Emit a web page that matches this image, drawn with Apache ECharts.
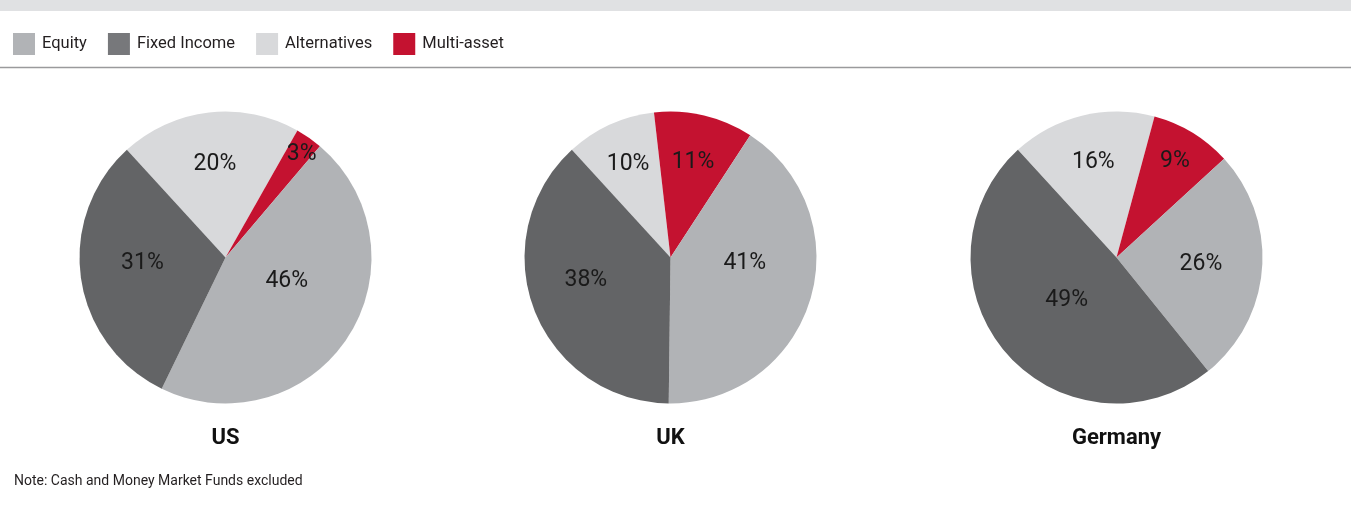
<!DOCTYPE html>
<html>
<head>
<meta charset="utf-8">
<title>Asset allocation by country</title>
<script src="https://cdn.jsdelivr.net/npm/echarts@6/dist/echarts.min.js"></script>
<style>
  html, body { margin: 0; padding: 0; background: #ffffff; }
  #chart { width: 1351px; height: 516px; }
</style>
</head>
<body>
<div id="chart"></div>
<script>
// Asset classes, in legend order
const categories = ['Equity', 'Fixed Income', 'Alternatives', 'Multi-asset'];
// Countries shown as separate pies
const countries = ['US', 'UK', 'Germany'];
// Share of assets (%), same order as categories
const usShares = [46, 31, 20, 3];
const ukShares = [41, 38, 10, 11];
const germanyShares = [26, 49, 16, 9];
const noteText = 'Note: Cash and Money Market Funds excluded';

const allShares = [usShares, ukShares, germanyShares];

// ---- styling ----
const FONT = 'Roboto, "Noto Sans", "Liberation Sans", sans-serif';
const sliceColors = {
  'Equity': '#b1b3b6',
  'Fixed Income': '#636466',
  'Alternatives': '#d8d9db',
  'Multi-asset': '#c41230'
};
const legendColors = {
  'Equity': '#b1b3b6',
  'Fixed Income': '#77787b',
  'Alternatives': '#d8d9db',
  'Multi-asset': '#c41230'
};
// slices run clockwise from the upper-left in this order
const drawOrder = ['Alternatives', 'Multi-asset', 'Equity', 'Fixed Income'];
const START_ANGLE = 132.5;
const RADIUS = 146;
const CENTER_Y = 257.5;
const centersX = [225.5, 670.5, 1116.5];
// how far out each percentage label sits, as a fraction of the radius
const labelReach = [
  { 'Equity': 0.45, 'Fixed Income': 0.57, 'Alternatives': 0.64, 'Multi-asset': 0.88 },
  { 'Equity': 0.51, 'Fixed Income': 0.60, 'Alternatives': 0.70, 'Multi-asset': 0.67 },
  { 'Equity': 0.58, 'Fixed Income': 0.45, 'Alternatives': 0.67, 'Multi-asset': 0.77 }
];
// small turn (degrees, counter-clockwise) of a label away from its slice's middle
const labelTurn = [
  { 'Equity': 12, 'Fixed Income': -4.5, 'Alternatives': 0, 'Multi-asset': -1.5 },
  { 'Equity': 12.5, 'Fixed Income': -6, 'Alternatives': 0, 'Multi-asset': 0 },
  { 'Equity': 0, 'Fixed Income': 0, 'Alternatives': 0, 'Multi-asset': 0 }
];

function pieData(shares) {
  return drawOrder.map(name => ({
    name,
    value: shares[categories.indexOf(name)],
    itemStyle: { color: sliceColors[name] }
  }));
}

// place a label along the middle of its slice
function labelPlacer(seriesIndex) {
  return function (params) {
    const data = pieData(allShares[seriesIndex]);
    const total = data.reduce((s, d) => s + d.value, 0);
    let before = 0;
    for (let i = 0; i < params.dataIndex; i++) before += data[i].value;
    const mid = before + data[params.dataIndex].value / 2;
    const name = data[params.dataIndex].name;
    // angle in degrees, counter-clockwise from 3 o'clock
    const deg = START_ANGLE - mid / total * 360 + labelTurn[seriesIndex][name];
    const ang = deg * Math.PI / 180;
    const reach = labelReach[seriesIndex][name] * RADIUS;
    return {
      x: centersX[seriesIndex] + reach * Math.cos(ang),
      y: CENTER_Y - reach * Math.sin(ang),
      align: 'center',
      verticalAlign: 'middle'
    };
  };
}

const series = countries.map((country, si) => ({
  type: 'pie',
  name: country,
  center: [centersX[si], CENTER_Y],
  radius: [0, RADIUS],
  startAngle: START_ANGLE,
  clockwise: true,
  avoidLabelOverlap: false,
  silent: true,
  label: {
    show: true,
    position: 'inside',
    formatter: '{c}%',
    fontFamily: FONT,
    fontSize: 23,
    color: '#1a1a1a'
  },
  labelLine: { show: false },
  labelLayout: labelPlacer(si),
  itemStyle: { borderWidth: 0 },
  emphasis: { disabled: true },
  data: pieData(allShares[si])
}));

// country names under each pie
const countryLabels = countries.map((country, si) => ({
  type: 'text',
  x: centersX[si],
  y: 438,
  silent: true,
  style: {
    text: country,
    font: 'bold 22px ' + FONT,
    fill: '#111111',
    align: 'center',
    verticalAlign: 'middle'
  }
}));

const chart = echarts.init(document.getElementById('chart'), null, { renderer: 'canvas' });
chart.setOption({
  animation: false,
  backgroundColor: '#ffffff',
  legend: {
    left: 13,
    top: 33,
    padding: 0,
    icon: 'rect',
    itemWidth: 22,
    itemHeight: 22,
    itemGap: 21,
    selectedMode: false,
    textStyle: { fontFamily: FONT, fontSize: 16.5, color: '#231f20', padding: [2, 0, 0, 2] },
    data: categories.map(name => ({ name, itemStyle: { color: legendColors[name] } }))
  },
  graphic: [
    { type: 'rect', left: 0, top: 0, shape: { width: 1351, height: 11 }, style: { fill: '#e0e1e3' }, silent: true },
    { type: 'line', shape: { x1: 0, y1: 67.5, x2: 1351, y2: 67.5 }, style: { stroke: '#9a9a9c', lineWidth: 1.5 }, silent: true },
    { type: 'text', left: 14, top: 474, style: { text: noteText, font: '14px ' + FONT, fill: '#231f20' }, silent: true }
  ].concat(countryLabels),
  series
});
</script>
</body>
</html>
